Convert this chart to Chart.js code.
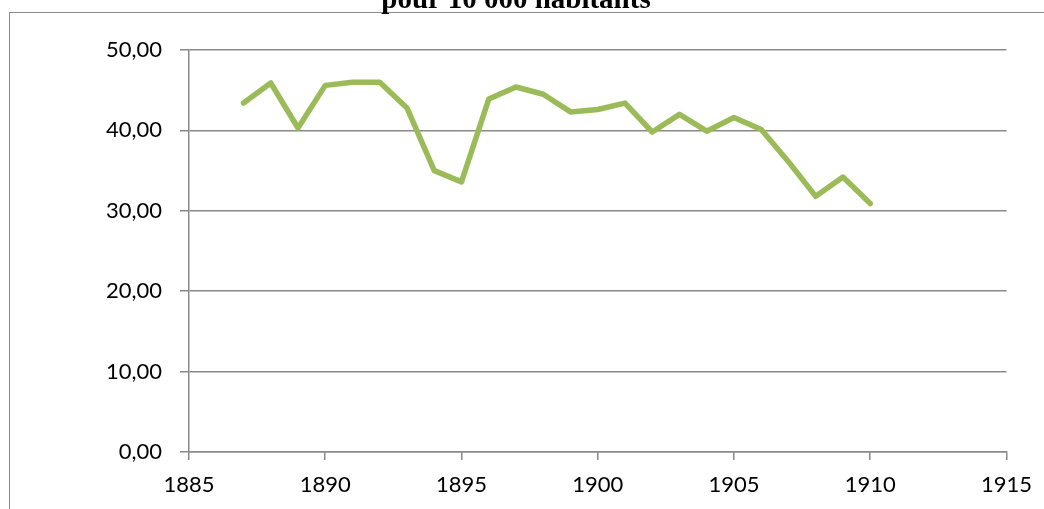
<!DOCTYPE html>
<html lang="fr">
<head>
    <meta charset="UTF-8">
    <title>pour 10 000 habitants</title>
    <script src="https://cdn.jsdelivr.net/npm/chart.js"></script>
    <style>
        body {
            margin: 0;
            padding: 0;
            background-color: white;
            overflow: hidden;
        }

        .frame {
            position: absolute;
            left: 9px;
            top: 12px;
            width: 1040px;
            height: 500px;
            border-left: 1.5px solid #8a8a8a;
            border-top: 1.5px solid #8a8a8a;
        }

        .title {
            position: absolute;
            left: 0;
            width: 1032px;
            top: -16px;
            text-align: center;
            font-family: "Liberation Serif", serif;
            font-weight: bold;
            font-size: 29px;
            line-height: 29px;
            color: #000;
        }

        .chart-box {
            position: absolute;
            left: 0;
            top: 0;
            width: 1044px;
            height: 509px;
        }
    </style>
</head>
<body>
<div class="frame"></div>
<div class="chart-box"><canvas id="chart"></canvas></div>
<div class="title">pour 10 000 habitants</div>
<script>
    // années et valeurs
    var years = [1887, 1888, 1889, 1890, 1891, 1892, 1893, 1894, 1895, 1896, 1897, 1898,
                 1899, 1900, 1901, 1902, 1903, 1904, 1905, 1906, 1907, 1908, 1909, 1910];
    var values = [43.4, 45.9, 40.3, 45.6, 46.0, 46.0, 42.8, 35.0, 33.6, 43.9, 45.4, 44.5,
                  42.3, 42.6, 43.4, 39.8, 42.0, 39.9, 41.6, 40.1, 36.1, 31.8, 34.2, 30.9];
    var xTicks = [1885, 1890, 1895, 1900, 1905, 1910, 1915];
    var yTicks = [0, 10, 20, 30, 40, 50];

    var gridColor = '#898989';
    var tickFont = {family: 'Lato', size: 22};

    var points = years.map(function (y, i) {
        return {x: y, y: values[i]};
    });

    new Chart(document.getElementById('chart').getContext('2d'), {
        type: 'line',
        data: {
            datasets: [{
                data: points,
                borderColor: '#9BBB59',
                borderWidth: 5.5,
                borderCapStyle: 'round',
                borderJoinStyle: 'round',
                pointRadius: 0,
                tension: 0,
                fill: false
            }]
        },
        options: {
            responsive: true,
            maintainAspectRatio: false,
            animation: false,
            layout: {padding: {left: 0, right: 36, top: 50, bottom: 0}},
            plugins: {
                legend: {display: false},
                tooltip: {enabled: false}
            },
            scales: {
                x: {
                    type: 'linear',
                    min: xTicks[0],
                    max: xTicks[xTicks.length - 1],
                    afterBuildTicks: function (scale) {
                        scale.ticks = xTicks.map(function (v) { return {value: v}; });
                    },
                    afterFit: function (scale) { scale.height = 57; },
                    grid: {
                        drawOnChartArea: false,
                        drawTicks: true,
                        tickLength: 8,
                        color: gridColor,
                        lineWidth: 1.5
                    },
                    border: {color: gridColor, width: 1.5},
                    ticks: {
                        color: '#000',
                        font: tickFont,
                        padding: 12,
                        maxRotation: 0,
                        callback: function (v) { return String(v); }
                    }
                },
                y: {
                    min: yTicks[0],
                    max: yTicks[yTicks.length - 1],
                    afterBuildTicks: function (scale) {
                        scale.ticks = yTicks.map(function (v) { return {value: v}; });
                    },
                    afterFit: function (scale) { scale.width = 189; },
                    grid: {
                        drawTicks: true,
                        tickLength: 9,
                        color: gridColor,
                        lineWidth: 1.5
                    },
                    border: {color: gridColor, width: 1.5},
                    ticks: {
                        color: '#000',
                        font: tickFont,
                        padding: 18,
                        callback: function (v) { return v.toFixed(2).replace('.', ','); }
                    }
                }
            }
        }
    });
</script>
</body>
</html>
